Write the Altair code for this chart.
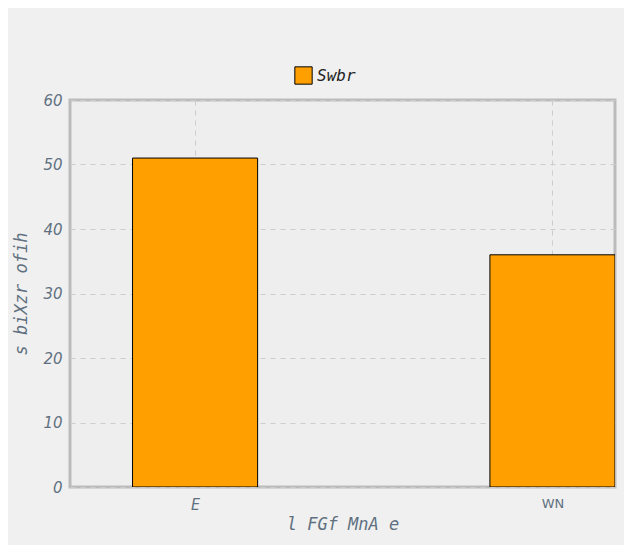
import altair as alt
import pandas as pd

categories = ["E", "WN"]
positions = [0, 1]
values = [51, 36]
series = "Swbr"

df = pd.DataFrame({"pos": positions, "cat": categories, "value": values, "series": series})
df["x0"] = df["pos"] - 0.175
df["x1"] = df["pos"] + 0.175

txt = "#607080"
mono = "DejaVu Sans Mono"

bars = alt.Chart(df).mark_rect(stroke="black", strokeWidth=1, clip=True).encode(
    x=alt.X("x0:Q", scale=alt.Scale(domain=[-0.35, 1.175], nice=False, zero=False),
            axis=alt.Axis(values=positions, labelExpr="datum.value == 0 ? 'E' : 'WN'",
                          title="l FGf MnA e", titleFont=mono, titleFontStyle="italic",
                          titleFontSize=17, titleFontWeight="normal", titleColor=txt,
                          labelFont={"condition": {"test": "datum.value == 0", "value": mono}, "value": "DejaVu Sans"},
                          labelFontStyle={"condition": {"test": "datum.value == 0", "value": "italic"}, "value": "normal"},
                          labelFontSize={"condition": {"test": "datum.value == 0", "value": 15}, "value": 13},
                          labelColor=txt, domain=False, ticks=False, labelPadding=10,
                          gridDash=[5, 5], gridColor="#cccccc")),
    x2="x1:Q",
    y=alt.Y("value:Q", scale=alt.Scale(domain=[0, 60], nice=False),
            axis=alt.Axis(values=[0, 10, 20, 30, 40, 50, 60], title="s biXzr ofih",
                          titleFont=mono, titleFontStyle="italic", titleFontSize=17,
                          titleFontWeight="normal", titleColor=txt, titlePadding=12,
                          labelFont="DejaVu Sans", labelFontStyle="italic", labelFontSize=15,
                          labelColor=txt, domain=False, ticks=False, labelPadding=8,
                          gridDash=[5, 5], gridColor="#cccccc")),
    y2=alt.datum(0),
    fill=alt.Color("series:N", scale=alt.Scale(range=["#ffa000"]),
                   legend=alt.Legend(title=None, orient="none", legendX=224, legendY=-34,
                                     symbolType="square", symbolSize=300,
                                     symbolStrokeColor="black", symbolStrokeWidth=1,
                                     labelFont=mono, labelFontStyle="italic",
                                     labelFontSize=16, labelColor="#222222")),
)

chart = bars.properties(
    width=545, height=387, background="#f0f0f0",
    autosize=alt.AutoSizeParams(type="none"),
    padding={"left": 62, "top": 92, "right": 9, "bottom": 58},
).configure_view(fill="#eeeeee", stroke="#bbbbbb", strokeWidth=3)

chart.save("out.html", embed_options={"renderer": "svg", "actions": False})
